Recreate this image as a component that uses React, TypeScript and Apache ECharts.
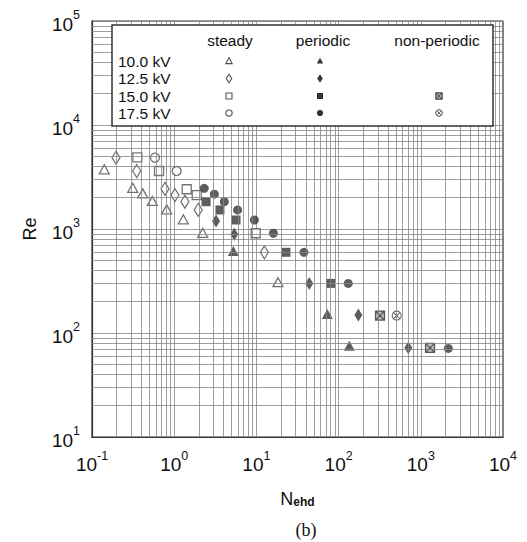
import React, { useEffect, useRef } from 'react';
import * as echarts from 'echarts';

// ---- data ----
const xDecades = [-1, 0, 1, 2, 3];
const yDecades = [1, 2, 3, 4];
const minorMultipliers = [2, 3, 4, 5, 6, 7, 8, 9];

const rowLabels = ['10.0 kV', '12.5 kV', '15.0 kV', '17.5 kV'];
const columnLabels = ['steady', 'periodic', 'non-periodic'];

const steady10: number[][] = [[0.141, 3750], [0.313, 2490], [0.414, 2200], [0.542, 1860], [0.811, 1545], [1.29, 1240], [2.22, 920], [18.3, 308]];
const periodic10: number[][] = [[5.24, 614], [72.9, 152], [135, 75.5]];
const steady12: number[][] = [[0.196, 4850], [0.35, 3610], [0.773, 2430], [1.02, 2120], [1.35, 1830], [1.96, 1525], [12.5, 597]];
const periodic12: number[][] = [[3.23, 1194], [5.38, 889], [44, 300], [174, 149], [705, 72]];
const steady15: number[][] = [[0.356, 4890], [0.654, 3610], [1.42, 2410], [1.88, 2120], [9.8, 910]];
const periodic15: number[][] = [[2.44, 1830], [3.6, 1525], [5.65, 1220], [22.9, 597], [80, 300]];
const nonPeriodic15: number[][] = [[319, 147], [1295, 72]];
const steady17: number[][] = [[0.584, 4850], [1.07, 3610]];
const periodic17: number[][] = [[2.32, 2460], [3.08, 2160], [4.07, 1830], [5.9, 1525], [9.45, 1220], [16.1, 910], [37.9, 597], [131, 300], [2160, 71]];
const nonPeriodic17: number[][] = [[509, 147]];

// ---- styles ----
const FONT = '"Liberation Sans", Arial, Helvetica, sans-serif';
const GRID = '#858585';
const OPEN = '#505050';
const DARK = '#353535';
const BOXX = 'path://M0,0L10,0L10,10L0,10Z M0,0L10,10 M10,0L0,10';
const CIRX = 'path://M10,5A5,5,0,1,1,0,5A5,5,0,1,1,10,5Z M1.6,1.6L8.4,8.4 M8.4,1.6L1.6,8.4';

const openStyle = { color: '#fff', borderColor: OPEN, borderWidth: 1.3 };
const fillStyle = { color: DARK, borderWidth: 0 };

function mk(name: string, data: number[][], symbol: string, size: any, style: any) {
  return {
    type: 'scatter', name, data, symbol, symbolSize: size, itemStyle: style,
    emphasis: { disabled: true }, z: 3, silent: true,
  };
}

const labelFmt = (v: number) => {
  const e = Math.round(Math.log10(v));
  return '{b|10}{s|' + e + '}';
};
const labelRich = {
  b: { fontSize: 19, fontFamily: FONT, color: '#111', lineHeight: 25, verticalAlign: 'bottom' },
  s: { fontSize: 12.5, fontFamily: FONT, color: '#111', lineHeight: 12, verticalAlign: 'top' },
};

// legend layout (pixels)
const colX = [229, 320, 439];
const rowY = [61, 78.5, 96, 113];

function shape(kind: string, cx: number, cy: number, filled: boolean): any {
  const st = filled ? { fill: DARK } : { fill: '#fff', stroke: OPEN, lineWidth: 1.1 };
  if (kind === 'tri') {
    return { type: 'polygon', z: 12, shape: { points: [[cx, cy - 3.3], [cx + 3.2, cy + 2.6], [cx - 3.2, cy + 2.6]] }, style: st };
  }
  if (kind === 'dia') {
    return { type: 'polygon', z: 12, shape: { points: [[cx, cy - 4.3], [cx + 2.8, cy], [cx, cy + 4.3], [cx - 2.8, cy]] }, style: st };
  }
  if (kind === 'sq') {
    return { type: 'rect', z: 12, shape: { x: cx - 3, y: cy - 3, width: 6, height: 6 }, style: st };
  }
  if (kind === 'cir') {
    return { type: 'circle', z: 12, shape: { cx, cy, r: 3.2 }, style: st };
  }
  if (kind === 'boxx') {
    return {
      type: 'group', z: 12, children: [
        { type: 'rect', z: 12, shape: { x: cx - 3.2, y: cy - 3.2, width: 6.4, height: 6.4 }, style: { fill: '#aaa', stroke: '#333', lineWidth: 1 } },
        { type: 'line', z: 13, shape: { x1: cx - 3.2, y1: cy - 3.2, x2: cx + 3.2, y2: cy + 3.2 }, style: { stroke: '#333', lineWidth: 0.8 } },
        { type: 'line', z: 13, shape: { x1: cx + 3.2, y1: cy - 3.2, x2: cx - 3.2, y2: cy + 3.2 }, style: { stroke: '#333', lineWidth: 0.8 } },
      ],
    };
  }
  // circled x
  return {
    type: 'group', z: 12, children: [
      { type: 'circle', z: 12, shape: { cx, cy, r: 3.3 }, style: { fill: '#fff', stroke: '#444', lineWidth: 1 } },
      { type: 'line', z: 13, shape: { x1: cx - 2.2, y1: cy - 2.2, x2: cx + 2.2, y2: cy + 2.2 }, style: { stroke: '#444', lineWidth: 0.8 } },
      { type: 'line', z: 13, shape: { x1: cx + 2.2, y1: cy - 2.2, x2: cx - 2.2, y2: cy + 2.2 }, style: { stroke: '#444', lineWidth: 0.8 } },
    ],
  };
}

export default function App() {
  const ref = useRef<HTMLDivElement>(null);
  useEffect(() => {
    if (!ref.current) return;
    const chart = echarts.init(ref.current, undefined, { renderer: 'svg' });

    const xMinor: number[] = [];
    xDecades.forEach((d) => minorMultipliers.forEach((m) => xMinor.push(m * Math.pow(10, d))));
    const yMinor: number[] = [];
    yDecades.forEach((d) => minorMultipliers.forEach((m) => yMinor.push(m * Math.pow(10, d))));

    const kinds = ['tri', 'dia', 'sq', 'cir'];
    const legendEls: any[] = [
      { type: 'rect', z: 10, shape: { x: 112, y: 25, width: 381, height: 101 }, style: { fill: '#fff', stroke: '#333', lineWidth: 1.5 } },
    ];
    columnLabels.forEach((c, i) => {
      legendEls.push({ type: 'text', z: 12, x: colX[i] + (i === 0 ? 1 : i === 1 ? 3 : -2), y: 40, style: { text: c, font: '15.5px ' + FONT, fill: '#111', align: 'center', verticalAlign: 'middle' } });
    });
    rowLabels.forEach((r, i) => {
      legendEls.push({ type: 'text', z: 12, x: 118, y: rowY[i], style: { text: r, font: '15.5px ' + FONT, fill: '#111', align: 'left', verticalAlign: 'middle' } });
      legendEls.push(shape(kinds[i], colX[0], rowY[i], false));
      legendEls.push(shape(kinds[i], colX[1], rowY[i], true));
    });
    legendEls.push(shape('boxx', colX[2], rowY[2], false));
    legendEls.push(shape('cirx', colX[2], rowY[3], false));
    legendEls.push({ type: 'text', z: 12, x: 306, y: 530, style: { text: '(b)', font: '18px "Liberation Serif", "Times New Roman", serif', fill: '#111', align: 'center', verticalAlign: 'middle' } });

    chart.setOption({
      animation: false,
      backgroundColor: '#fff',
      grid: { left: 92, right: 24, top: 21, bottom: 105, show: true, borderColor: '#333', borderWidth: 1.2, backgroundColor: 'transparent' },
      xAxis: {
        type: 'log', logBase: 10, min: 0.1, max: 10000,
        name: '{n|N}{e|ehd}', nameLocation: 'middle', nameGap: 51,
        nameTextStyle: { rich: { n: { fontSize: 18, fontFamily: FONT, color: '#111', verticalAlign: 'bottom', lineHeight: 20 }, e: { fontSize: 12, fontFamily: FONT, color: '#111', fontWeight: 'bold', verticalAlign: 'bottom', lineHeight: 16 } } },
        axisLine: { show: true, lineStyle: { color: '#333', width: 1.2 } },
        axisTick: { show: false },
        axisLabel: { formatter: labelFmt, rich: labelRich, margin: 12, showMinLabel: true, showMaxLabel: true },
        splitLine: { show: true, lineStyle: { color: GRID, width: 0.8 } },
      },
      yAxis: {
        type: 'log', logBase: 10, min: 10, max: 100000,
        name: 'Re', nameLocation: 'middle', nameGap: 53, nameRotate: 90,
        nameTextStyle: { fontSize: 18, fontFamily: FONT, color: '#111' },
        axisLine: { show: true, lineStyle: { color: '#333', width: 1.2 } },
        axisTick: { show: false },
        axisLabel: { formatter: labelFmt, rich: labelRich, margin: 12, showMinLabel: true, showMaxLabel: true },
        splitLine: { show: true, lineStyle: { color: GRID, width: 0.8 } },
      },
      graphic: legendEls,
      series: [
        {
          type: 'scatter', data: [], silent: true, z: 1,
          markLine: {
            silent: true, symbol: ['none', 'none'], label: { show: false },
            lineStyle: { color: GRID, width: 0.8, type: 'solid' },
            emphasis: { disabled: true },
            data: [...xMinor.map((v) => ({ xAxis: v })), ...yMinor.map((v) => ({ yAxis: v }))],
          },
        },
        mk('steady 10.0 kV', steady10, 'triangle', [10, 9], openStyle),
        mk('periodic 10.0 kV', periodic10, 'triangle', [11, 10], fillStyle),
        mk('steady 12.5 kV', steady12, 'diamond', [8, 13], openStyle),
        mk('periodic 12.5 kV', periodic12, 'diamond', [8, 13], fillStyle),
        mk('steady 15.0 kV', steady15, 'rect', 9, openStyle),
        mk('periodic 15.0 kV', periodic15, 'rect', 9, fillStyle),
        mk('non-periodic 15.0 kV', nonPeriodic15, BOXX, 9, { color: '#aaa', borderColor: '#333', borderWidth: 1.2 }),
        mk('steady 17.5 kV', steady17, 'circle', 9, openStyle),
        mk('periodic 17.5 kV', periodic17, 'circle', 9, fillStyle),
        mk('non-periodic 17.5 kV', nonPeriodic17, CIRX, 9, { color: '#fff', borderColor: '#444', borderWidth: 1.1 }),
      ],
    });
    return () => chart.dispose();
  }, []);
  return <div ref={ref} style={{ position: 'absolute', left: 0, top: 0, width: 527, height: 542, background: '#fff' }} />;
}
